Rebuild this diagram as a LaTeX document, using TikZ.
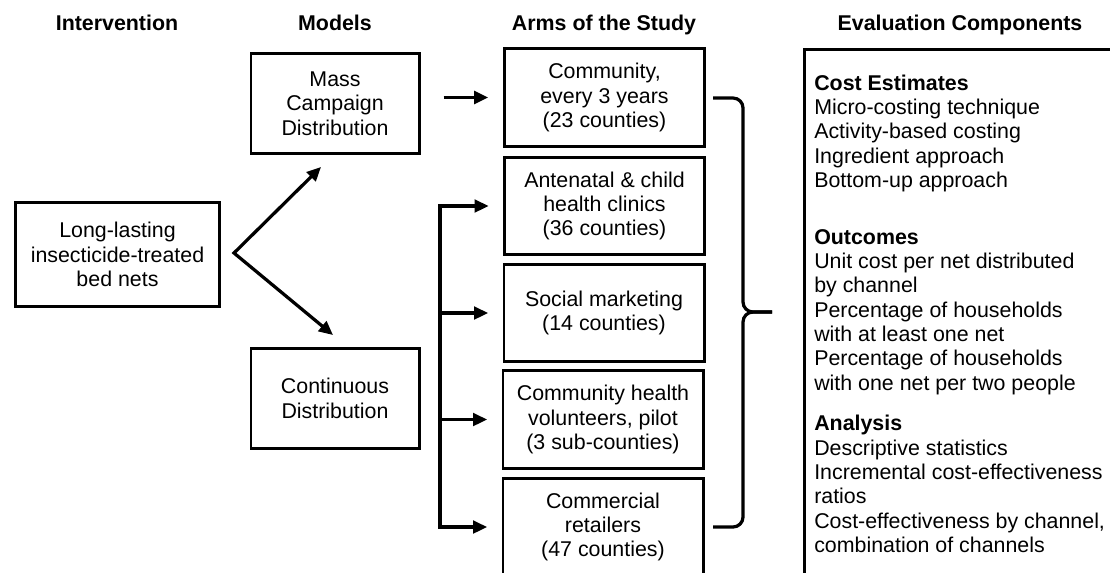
\documentclass[tikz,border=0pt]{standalone}
\usepackage{fontspec}
\setmainfont{Liberation Sans}
\usetikzlibrary{arrows.meta,calc}

\begin{document}
\begin{tikzpicture}[x=0.025cm, y=-0.025cm,
    every node/.style={inner sep=0pt, font=\fontsize{15.2}{17.3}\selectfont},
    heading/.style={font=\fontsize{15.2}{17.3}\selectfont\bfseries, anchor=base},
    box/.style={draw, line width=2.1pt, align=center, minimum width=4.2cm, minimum height=2.5cm},
    armbox/.style={box, minimum width=5cm, minimum height=2.43cm},
    listtext/.style={align=left, anchor=north west},
    arr/.style={line width=2.3pt, -{Triangle[length=10pt,width=9pt]}},
    biarr/.style={line width=2.3pt, {Triangle[length=10pt,width=9pt]}-{Triangle[length=10pt,width=9pt]}},
    bracket/.style={line width=2.3pt, line join=round}]
    \path[use as bounding box, clip] (0,0) rectangle (1110,572);
    \node[heading] (hint) at (117,30) {Intervention};
    \node[heading] (hmod) at (335,30) {Models};
    \node[heading] (harm) at (604,30) {Arms of the Study};
    \node[heading] (heval) at (960,30) {Evaluation Components};
    \node[box, minimum width=5.08cm, minimum height=2.58cm] (llin) at (117.5,254.5) {Long-lasting\\insecticide-treated\\bed nets};
    \node[box] (mass) at (335,103.5) {Mass\\Campaign\\Distribution};
    \node[box] (cont) at (335,398.5) {Continuous\\Distribution};
    \node[armbox] (comm) at (604.5,97.5) {Community,\\every 3 years\\(23 counties)};
    \node[armbox] (ante) at (604.5,206) {Antenatal \& child\\health clinics\\(36 counties)};
    \node[armbox] (soc) at (604,313) {Social marketing\\(14 counties)};
    \node[armbox] (chv) at (603,419.5) {Community health\\volunteers, pilot\\(3 sub-counties)};
    \node[armbox] (comr) at (603,527) {Commercial\\retailers\\(47 counties)};
    \node[box, minimum width=9cm, minimum height=14cm, anchor=north west] (eval) at (803,48) {};
    \node[listtext] (costs) at (814,74.5) {\textbf{Cost Estimates}\\Micro-costing technique\\Activity-based costing\\Ingredient approach\\Bottom-up approach};
    \node[listtext] (outc) at (814,229) {\textbf{Outcomes}\\Unit cost per net distributed\\by channel\\Percentage of households\\with at least one net\\Percentage of households\\with one net per two people};
    \node[listtext] (anal) at (814,415) {\textbf{Analysis}\\Descriptive statistics\\Incremental cost-effectiveness\\ratios\\Cost-effectiveness by channel,\\combination of channels};
    \coordinate (fork) at (234,253);
    \coordinate (rail) at (440,0);
    \draw[biarr] ($(mass.south)+(-14,12)$) -- (fork) -- ($(cont.north)+(-2,-12)$);
    \draw[arr, shorten <=0.58cm, shorten >=0.37cm] (mass.east |- comm.west) -- (comm.west);
    \draw[biarr, shorten <=0.36cm, shorten >=0.36cm] (ante.west) -| (rail |- comr.west) -- (comr.west);
    \foreach \b in {soc,chv}
      \draw[arr, shorten >=0.36cm] (rail |- \b.west) -- (\b.west);
    \draw[bracket] (713,98) -- (733,98) to[out=0,in=90] (743,108) -- (743,302)
      to[out=-90,in=180] (753,312) -- (772,312);
    \draw[bracket] (772,312) -- (753,312) to[out=180,in=90] (743,322) -- (743,517)
      to[out=-90,in=0] (733,527) -- (713,527);
\end{tikzpicture}
\end{document}
